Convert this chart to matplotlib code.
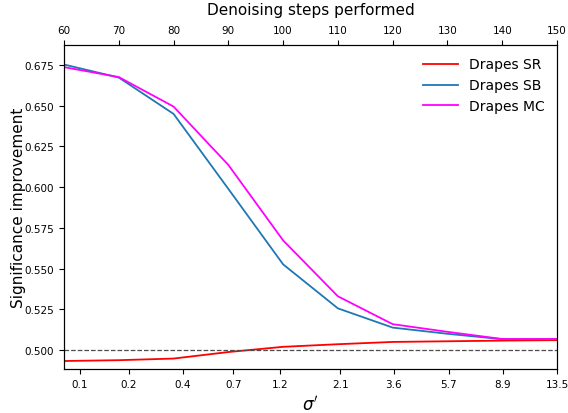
import matplotlib
matplotlib.use("Agg")
import matplotlib.pyplot as plt

# Denoising steps at which each model was evaluated
steps = [60, 70, 80, 90, 100, 110, 120, 130, 140, 150]

# Significance improvement per method
drapes_sr = [0.4933, 0.4938, 0.4948, 0.4988, 0.5020, 0.5036, 0.5050, 0.5054, 0.5058, 0.5061]
drapes_sb = [0.6752, 0.6672, 0.6449, 0.5989, 0.5526, 0.5256, 0.5138, 0.5100, 0.5067, 0.5067]
drapes_mc = [0.6736, 0.6675, 0.6494, 0.6136, 0.5673, 0.5330, 0.5159, 0.5112, 0.5068, 0.5068]

# Noise level sigma' shown on the bottom axis, placed at the matching step
sigma_positions = [62.85, 71.8, 81.7, 90.9, 99.5, 110.4, 120.2, 130.2, 140.1, 150.0]
sigma_labels = ["0.1", "0.2", "0.4", "0.7", "1.2", "2.1", "3.6", "5.7", "8.9", "13.5"]

top_ticks = [60, 70, 80, 90, 100, 110, 120, 130, 140, 150]
y_ticks = [0.500, 0.525, 0.550, 0.575, 0.600, 0.625, 0.650, 0.675]

fig = plt.figure(figsize=(5.68, 4.14), dpi=100)
ax = fig.add_axes([0.1127, 0.1063, 0.8679, 0.7827])

ax.plot(steps, drapes_sr, color="red", lw=1.3, label="Drapes SR")
ax.plot(steps, drapes_sb, color="#1f77b4", lw=1.3, label="Drapes SB")
ax.plot(steps, drapes_mc, color="magenta", lw=1.3, label="Drapes MC")
ax.axhline(0.5, color="0.3", ls="--", lw=0.9)

ax.set_xlim(60, 150)
ax.set_ylim(0.4884, 0.6872)
ax.set_yticks(y_ticks)
ax.set_yticklabels([f"{v:.3f}" for v in y_ticks], fontsize=7.5)
ax.set_xticks(sigma_positions)
ax.set_xticklabels(sigma_labels, fontsize=7.5)
ax.set_xlabel(r"$\sigma'$", fontsize=12, labelpad=4)
ax.set_ylabel("Significance improvement", fontsize=11, labelpad=-1)

top = ax.twiny()
top.set_xlim(ax.get_xlim())
top.set_xticks(top_ticks)
top.set_xticklabels([str(t) for t in top_ticks], fontsize=7.5)
top.set_xlabel("Denoising steps performed", fontsize=11, labelpad=8)

ax.legend(loc="upper right", frameon=False, fontsize=10, handlelength=2.5)

fig.savefig("out.png", dpi=100)
